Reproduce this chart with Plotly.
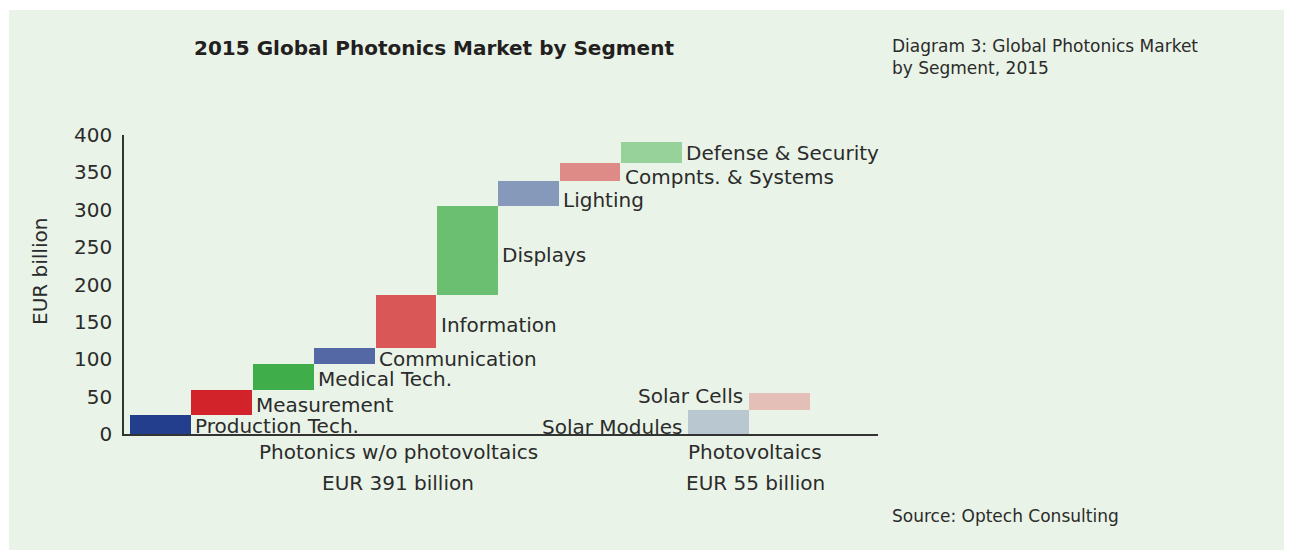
import plotly.graph_objects as go

# ---- data ----
segments = ["Production Tech.", "Measurement", "Medical Tech.", "Communication",
            "Information", "Displays", "Lighting", "Compnts. & Systems",
            "Defense & Security"]
segment_values = [25, 34, 35, 21, 71, 119, 33, 24, 29]
segment_colors = ["#243E8E", "#D2232A", "#3FAE4A", "#5468A6", "#D95757",
                  "#6BBF70", "#8799BA", "#DE8A87", "#97D29A"]

pv_segments = ["Solar Modules", "Solar Cells"]
pv_values = [32, 23]
pv_colors = ["#B8C7D0", "#E3BFB7"]

y_ticks = [0, 50, 100, 150, 200, 250, 300, 350, 400]

group_labels = ["Photonics w/o photovoltaics", "Photovoltaics"]
group_totals = ["EUR 391 billion", "EUR 55 billion"]

# ---- derived (waterfall bases) ----
def bases_of(vals):
    out, s = [], 0
    for v in vals:
        out.append(s)
        s += v
    return out

seg_base = bases_of(segment_values)
pv_base = bases_of(pv_values)

FONT = "DejaVu Sans"
TXT = "#2b2b2b"
BG = "rgb(233,243,231)"

# page body has an 8px margin; lay out in window pixels and compensate
OFF = 8
L, R, T, B = 124, 878, 135, 434          # plot area in window pixels
W, H = 1292 - OFF, 550 - OFF
def px(x):
    return (x - L) / (R - L)
def py(y):
    return (B - y) / (B - T)

fig = go.Figure()
fig.add_trace(go.Bar(
    x=segments, y=segment_values, base=seg_base,
    marker=dict(color=segment_colors, line=dict(width=0)),
    width=0.99, hoverinfo="x+y", showlegend=False))
fig.add_trace(go.Bar(
    x=pv_segments, y=pv_values, base=pv_base,
    marker=dict(color=pv_colors, line=dict(width=0)),
    width=0.99, offset=-0.405, hoverinfo="x+y", showlegend=False))

LAB = dict(family=FONT, size=20, color=TXT)
ann = []
# segment labels to the right of each bar (small pixel nudges for legibility)
seg_yshift = [-1, -2, -2, -3, -3, -5, -6, -5, 0]
for i, (name, b, v) in enumerate(zip(segments, seg_base, segment_values)):
    ann.append(dict(x=i + 0.5, y=b + v / 2, xref="x", yref="y", text=name,
                    showarrow=False, xanchor="left", yanchor="middle",
                    xshift=2, yshift=seg_yshift[i], font=LAB))
# photovoltaic labels to the left of their bars
n = len(segments)
pv_yshift = [-5, 5]
for j, (name, b, v) in enumerate(zip(pv_segments, pv_base, pv_values)):
    ann.append(dict(x=n + j - 0.405, y=b + v / 2, xref="x", yref="y", text=name,
                    showarrow=False, xanchor="right", yanchor="middle",
                    xshift=-4, yshift=pv_yshift[j], font=LAB))

# group labels below axis
for cx, lab, tot in zip([398, 755], group_labels, group_totals):
    ann.append(dict(x=px(cx), y=py(452), xref="paper", yref="paper", text=lab,
                    showarrow=False, xanchor="center", yanchor="middle", font=LAB))
    ann.append(dict(x=px(cx), y=py(483), xref="paper", yref="paper", text=tot,
                    showarrow=False, xanchor="center", yanchor="middle", font=LAB))

# title
ann.append(dict(x=px(192), y=py(48), xref="paper", yref="paper",
                text="<b>2015 Global Photonics Market by Segment</b>",
                showarrow=False, xanchor="left", yanchor="middle",
                font=dict(family=FONT, size=20, color="#231F20")))
# side caption
ann.append(dict(x=px(890), y=py(57), xref="paper", yref="paper",
                text="Diagram 3: Global Photonics Market<br>by Segment, 2015",
                showarrow=False, xanchor="left", yanchor="middle", align="left",
                font=dict(family=FONT, size=17, color=TXT)))
# source
ann.append(dict(x=px(890), y=py(516), xref="paper", yref="paper",
                text="Source: Optech Consulting",
                showarrow=False, xanchor="left", yanchor="middle",
                font=dict(family=FONT, size=17, color=TXT)))
# y-axis title
ann.append(dict(x=px(40), y=py(272), xref="paper", yref="paper",
                text="EUR billion", textangle=-90,
                showarrow=False, xanchor="center", yanchor="middle", font=LAB))

fig.update_layout(
    width=W, height=H,
    margin=dict(l=L - OFF, r=W - (R - OFF), t=T - OFF, b=H - (B - OFF), pad=0),
    paper_bgcolor=BG, plot_bgcolor=BG,
    barmode="overlay", bargap=0,
    annotations=ann,
    shapes=[dict(type="rect", xref="paper", yref="paper",
                 x0=px(0), x1=px(9), y0=py(560), y1=py(0),
                 fillcolor="white", line=dict(width=0), layer="below"),
            dict(type="rect", xref="paper", yref="paper",
                 x0=px(0), x1=px(1300), y0=py(10), y1=py(0),
                 fillcolor="white", line=dict(width=0), layer="below")],
    xaxis=dict(categoryorder="array", categoryarray=segments + pv_segments,
               range=[-0.592, 11.69], showticklabels=False, ticks="",
               showgrid=False, zeroline=False, showline=True,
               linecolor="#333333", linewidth=1.5, fixedrange=True),
    yaxis=dict(range=[0, 400], tickvals=y_ticks, showgrid=False, zeroline=False,
               showline=True, linecolor="#333333", linewidth=1.5, ticks="",
               ticklabelstandoff=6,
               tickfont=dict(family=FONT, size=20, color=TXT), fixedrange=True),
)

fig.write_html("out.html")
